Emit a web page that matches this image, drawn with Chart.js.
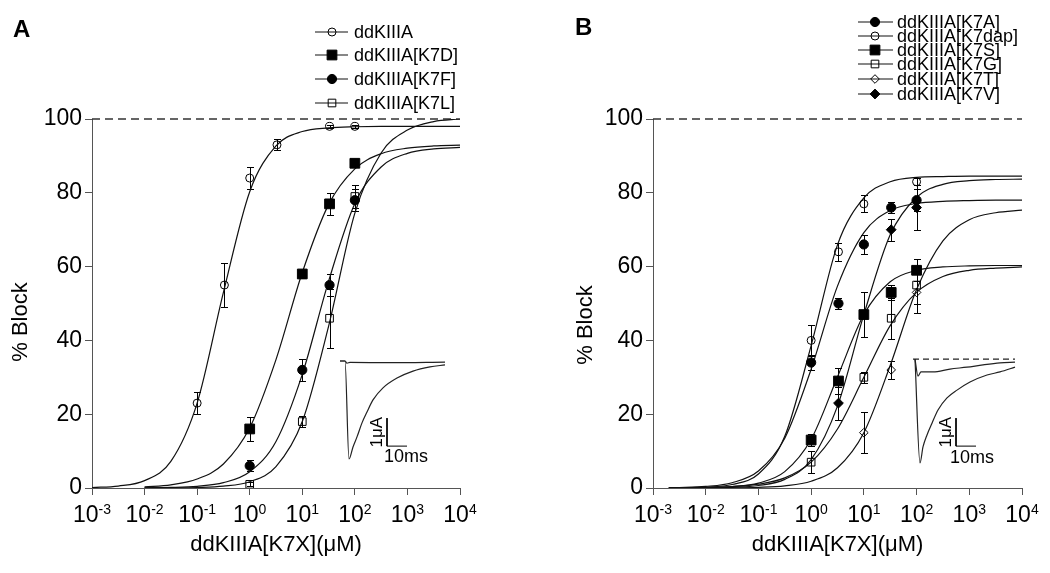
<!DOCTYPE html>
<html>
<head>
<meta charset="utf-8">
<script src="https://cdn.jsdelivr.net/npm/chart.js@4.4.1/dist/chart.umd.min.js"></script>
<style>
  html, body { margin: 0; padding: 0; background: #fff; }
  #wrap { position: relative; width: 1050px; height: 573px; }
  canvas { position: absolute; }
</style>
</head>
<body>
<div id="wrap">
  <canvas id="panelA" width="525" height="573" style="left:0;top:0"></canvas>
  <canvas id="panelB" width="525" height="573" style="left:525px;top:0"></canvas>
  <canvas id="insetA" width="130" height="140" style="left:330px;top:340px"></canvas>
  <canvas id="insetB" width="130" height="140" style="left:900px;top:340px"></canvas>
</div>
<script>
// axes
const decades = [1e-3, 1e-2, 1e-1, 1, 1e1, 1e2, 1e3, 1e4];
const yTicks = [0, 20, 40, 60, 80, 100];
const xTitle = 'ddKIIIA[K7X](\u03bcM)';
const yTitle = '% Block';

// Panel A, measured points: concentration (uM), % block, error
const ddK_conc = [0.1, 0.33, 1, 3.3, 33, 100];
const ddK_block = [23, 55, 84, 93, 98, 98];
const ddK_err = [3, 6, 3, 1.5, 0.5, 0.5];

const k7D_conc = [1, 10, 33, 100];
const k7D_block = [16, 58, 77, 88];
const k7D_err = [3.3, 1, 3, 1];

const k7F_conc = [1, 10, 33, 100];
const k7F_block = [6, 32, 55, 78];
const k7F_err = [1.5, 3, 3, 3];

const k7L_conc = [1, 10, 33, 100];
const k7L_block = [1, 18, 46, 79];
const k7L_err = [0.5, 1.5, 8, 3];

// Panel A, fitted curves at half-decade steps
const fitConcA = [0.001, 0.00316, 0.01, 0.0316, 0.1, 0.316, 1, 3.16, 10, 31.6, 100, 316, 1000, 3162, 10000];
const ddK_fit = [0.14, 0.53, 2.0, 7.2, 23.0, 53.0, 80.3, 92.7, 96.6, 97.6, 97.9, 98, 98, 98, 98];
const k7D_fit = [null, null, 0.31, 0.87, 2.43, 6.5, 16.3, 34.8, 58.4, 76.8, 86.5, 90.6, 92.1, 92.7, 92.9];
const k7F_fit = [null, null, 0.05, 0.15, 0.46, 1.44, 4.4, 12.6, 30.8, 56.0, 77.1, 87.0, 90.7, 91.9, 92.3];
const k7L_fit = [null, null, 0.01, 0.04, 0.14, 0.49, 1.71, 5.8, 18.0, 43.8, 74.5, 90.8, 97.0, 99.3, 100];

// Panel B, measured points
const k7A_conc = [1, 3.3, 10, 33, 100];
const k7A_block = [34, 50, 66, 76, 78];
const k7A_err = [2, 1.5, 2.5, 1.5, 3];

const k7dap_conc = [1, 3.3, 10, 100];
const k7dap_block = [40, 64, 77, 83];
const k7dap_err = [4.3, 2.5, 2.3, 1];

const k7S_conc = [1, 3.3, 10, 33, 100];
const k7S_block = [13, 29, 47, 53, 59];
const k7S_err = [1.5, 3.5, 6, 2, 3];

const k7G_conc = [1, 10, 33, 100];
const k7G_block = [7, 30, 46, 55];
const k7G_err = [3, 1.5, 5.5, 5];

const k7T_conc = [10, 33, 100];
const k7T_block = [15, 32, 53];
const k7T_err = [5.5, 2.5, 5.5];

const k7V_conc = [3.3, 33, 100];
const k7V_block = [23, 70, 76];
const k7V_err = [4.5, 3, 6];

// Panel B, fitted curves
const fitConcB = [0.002, 0.00316, 0.01, 0.0316, 0.1, 0.316, 1, 3.16, 10, 31.6, 100, 316, 1000, 3162, 10000];
const k7A_fit = [0.08, 0.13, 0.43, 1.43, 4.6, 13.5, 32.2, 54.7, 69.2, 75.2, 77.1, 77.7, 77.9, 78, 78];
const k7dap_fit = [0.03, 0.05, 0.22, 0.94, 3.8, 14.0, 38.6, 65.9, 78.6, 83.0, 84.2, 84.4, 84.5, 84.5, 84.5];
const k7S_fit = [0.02, 0.03, 0.11, 0.38, 1.32, 4.43, 13.2, 30.1, 47.0, 55.9, 59.0, 59.9, 60.2, 60.3, 60.3];
const k7G_fit = [0.03, 0.05, 0.14, 0.38, 1.03, 2.74, 7.0, 16.0, 30.0, 44.0, 53.0, 57.3, 59.0, 59.6, 59.9];
const k7T_fit = [0, 0.01, 0.02, 0.06, 0.19, 0.59, 1.83, 5.5, 15.0, 33.2, 53.8, 67.0, 72.7, 74.6, 75.3];
const k7V_fit = [0.01, 0.02, 0.05, 0.19, 0.67, 2.33, 7.7, 22.2, 47.0, 68.6, 78.8, 82.3, 83.3, 83.6, 83.7];

// Inset traces: time (ms), current (uA, relative to baseline)
const trA_ctrl_t = [5, 7.5, 9.5, 11.5, 13.5, 16, 18.5, 21.5, 26.5, 33.5, 41.5, 50, 57.5];
const trA_ctrl_i = [0, 0, -3.5, -3.07, -2.71, -2.21, -1.82, -1.39, -0.96, -0.61, -0.36, -0.21, -0.14];
const trA_tox_t = [5, 7.5, 8.5, 10, 30, 57.5];
const trA_tox_i = [0, 0, -0.08, -0.05, -0.06, -0.04];
const barA_t = [28.5, 28.5, 38.5];
const barA_i = [-2.04, -3.04, -3.04];

const trB_ctrl_t = [7.5, 10, 11.5, 13.5, 16, 19, 23.5, 28.5, 35, 43.5, 50, 57.5];
const trB_ctrl_i = [0, -3.71, -3.14, -2.71, -2.29, -1.82, -1.39, -1.11, -0.82, -0.57, -0.46, -0.29];
const trB_tox_t = [7.5, 9, 10.5, 16.5, 25, 33.5, 41.5, 50, 57.5];
const trB_tox_i = [0, -0.61, -0.46, -0.46, -0.36, -0.29, -0.21, -0.14, -0.11];
const baseB_t = [6.5, 57.5];
const baseB_i = [0, 0];
const barB_t = [28, 28, 38];
const barB_i = [-2.11, -3.11, -3.11];

const FONT = '"Liberation Sans", Arial, Helvetica, sans-serif';
const AXIS = '#555';
Chart.defaults.font.family = FONT;
Chart.defaults.color = '#000';

function pairs( xs, ys ) {
	let out = [];
	xs.forEach( function ( x, i ) {
		if ( ys[i] !== null ) out.push( { x: x, y: ys[i] } );
	} );
	return out;
}

function pointSet( label, xs, ys, errs, style, radius, filled ) {
	return {
		label: label,
		data: pairs( xs, ys ),
		errs: errs,
		inLegend: true,
		showLine: false,
		pointStyle: style,
		pointRadius: radius,
		pointHoverRadius: radius,
		pointBackgroundColor: filled ? '#000' : 'rgba(0,0,0,0)',
		pointBorderColor: '#000',
		pointBorderWidth: 1,
		order: 0
	};
}

function fitSet( xs, ys ) {
	return {
		data: pairs( xs, ys ),
		showLine: true,
		pointRadius: 0,
		borderColor: '#111',
		borderWidth: 1.2,
		cubicInterpolationMode: 'monotone',
		order: 1
	};
}

// dashed 100 % reference
function refLine() {
	return {
		data: [ { x: decades[0], y: 100 }, { x: decades[decades.length - 1], y: 100 } ],
		showLine: true,
		pointRadius: 0,
		borderColor: '#333',
		borderWidth: 1.3,
		borderDash: [ 8, 5 ],
		clip: false,
		order: 2
	};
}

function marker( ctx, ds, x, y ) {
	ctx.fillStyle = ds.pointBackgroundColor;
	ctx.strokeStyle = '#000';
	ctx.lineWidth = 1;
	Chart.helpers.drawPoint( ctx, { pointStyle: ds.pointStyle, radius: ds.pointRadius, borderWidth: 1, rotation: 0 }, x, y );
}

// error bars, exponent tick labels, legend, panel letter, y title
const figurePlugin = {
	id: 'figure',
	beforeDatasetsDraw( chart ) {
		const ctx = chart.ctx, xs = chart.scales.x, ys = chart.scales.y;
		ctx.save();
		ctx.strokeStyle = '#000';
		ctx.lineWidth = 1;
		chart.data.datasets.forEach( function ( ds ) {
			if ( !ds.errs ) return;
			ds.data.forEach( function ( p, i ) {
				const px = Math.round( xs.getPixelForValue( p.x ) ) + 0.5;
				const top = Math.round( ys.getPixelForValue( p.y + ds.errs[i] ) ) + 0.5;
				const bot = Math.round( ys.getPixelForValue( p.y - ds.errs[i] ) ) + 0.5;
				ctx.beginPath();
				ctx.moveTo( px, top ); ctx.lineTo( px, bot );
				ctx.moveTo( px - 3.5, top ); ctx.lineTo( px + 3.5, top );
				ctx.moveTo( px - 3.5, bot ); ctx.lineTo( px + 3.5, bot );
				ctx.stroke();
			} );
		} );
		ctx.restore();
	},
	afterDraw( chart, args, opts ) {
		const ctx = chart.ctx, xs = chart.scales.x, bottom = chart.chartArea.bottom;
		ctx.save();
		ctx.fillStyle = '#000';
		ctx.textBaseline = 'alphabetic';
		ctx.textAlign = 'left';

		// 10^n tick labels
		decades.forEach( function ( v ) {
			const exp = String( Math.round( Math.log10( v ) ) );
			ctx.font = '23px ' + FONT;
			const wb = ctx.measureText( '10' ).width;
			ctx.font = '14px ' + FONT;
			const we = ctx.measureText( exp ).width;
			const left = xs.getPixelForValue( v ) - ( wb + we ) / 2;
			ctx.font = '23px ' + FONT;
			ctx.fillText( '10', left, bottom + 34 );
			ctx.font = '14px ' + FONT;
			ctx.fillText( exp, left + wb, bottom + 26 );
		} );

		// panel letter
		ctx.font = 'bold 24px ' + FONT;
		ctx.fillText( opts.letter, opts.letterX, opts.letterY );

		// y title
		ctx.save();
		ctx.translate( opts.yTitleX, opts.yTitleY );
		ctx.rotate( -Math.PI / 2 );
		ctx.textAlign = 'center';
		ctx.textBaseline = 'middle';
		ctx.font = '22px ' + FONT;
		ctx.fillText( yTitle, 0, 0 );
		ctx.restore();

		// legend
		const lg = opts.legend;
		let row = 0;
		chart.data.datasets.forEach( function ( ds ) {
			if ( !ds.inLegend ) return;
			const y = lg.rows[row++];
			ctx.strokeStyle = '#111';
			ctx.lineWidth = 1.2;
			ctx.beginPath();
			ctx.moveTo( lg.x1, y ); ctx.lineTo( lg.x2, y );
			ctx.stroke();
			marker( ctx, ds, lg.mx, y );
			ctx.fillStyle = '#000';
			ctx.font = '18px ' + FONT;
			ctx.textBaseline = 'middle';
			ctx.fillText( ds.label, lg.tx, y + 1 );
		} );
		ctx.restore();
	}
};

function panel( id, datasets, yWidth, padRight, figure ) {
	return new Chart( document.getElementById( id ), {
		type: 'scatter',
		data: { datasets: datasets },
		options: {
			responsive: false,
			animation: false,
			events: [],
			layout: { padding: { top: 119, right: padRight, bottom: 0, left: 0 } },
			scales: {
				x: {
					type: 'logarithmic',
					min: decades[0],
					max: decades[decades.length - 1],
					afterBuildTicks: function ( s ) { s.ticks = decades.map( function ( v ) { return { value: v }; } ); },
					afterFit: function ( s ) { s.height = 85; },
					ticks: { display: false },
					grid: { drawOnChartArea: false, drawTicks: true, tickLength: 7, color: AXIS },
					border: { color: AXIS, width: 1 },
					title: { display: true, text: xTitle, color: '#000', font: { size: 22 }, padding: { top: 0, bottom: 15 } }
				},
				y: {
					min: 0,
					max: 100,
					afterBuildTicks: function ( s ) { s.ticks = yTicks.map( function ( v ) { return { value: v }; } ); },
					afterFit: function ( s ) { s.width = yWidth; },
					ticks: { color: '#000', font: { size: 23 }, padding: 3 },
					grid: { drawOnChartArea: false, drawTicks: true, tickLength: 7, color: AXIS },
					border: { color: AXIS, width: 1 }
				}
			},
			plugins: {
				legend: { display: false },
				tooltip: { enabled: false },
				figure: figure
			}
		},
		plugins: [ figurePlugin ]
	} );
}

// Panel A
panel( 'panelA', [
	pointSet( 'ddKIIIA', ddK_conc, ddK_block, ddK_err, 'circle', 4, false ),
	pointSet( 'ddKIIIA[K7D]', k7D_conc, k7D_block, k7D_err, 'rect', 6.9, true ),
	pointSet( 'ddKIIIA[K7F]', k7F_conc, k7F_block, k7F_err, 'circle', 4.6, true ),
	pointSet( 'ddKIIIA[K7L]', k7L_conc, k7L_block, k7L_err, 'rect', 5.4, false ),
	fitSet( fitConcA, ddK_fit ),
	fitSet( fitConcA, k7D_fit ),
	fitSet( fitConcA, k7F_fit ),
	fitSet( fitConcA, k7L_fit ),
	refLine()
], 92, 65, {
	letter: 'A', letterX: 13, letterY: 37,
	yTitleX: 21, yTitleY: 322,
	legend: { x1: 315, x2: 348, mx: 332, tx: 354, rows: [ 32, 55, 79, 103 ] }
} );

// Panel B
panel( 'panelB', [
	pointSet( 'ddKIIIA[K7A]', k7A_conc, k7A_block, k7A_err, 'circle', 4.6, true ),
	pointSet( 'ddKIIIA[K7dap]', k7dap_conc, k7dap_block, k7dap_err, 'circle', 4, false ),
	pointSet( 'ddKIIIA[K7S]', k7S_conc, k7S_block, k7S_err, 'rect', 6.9, true ),
	pointSet( 'ddKIIIA[K7G]', k7G_conc, k7G_block, k7G_err, 'rect', 5.4, false ),
	pointSet( 'ddKIIIA[K7T]', k7T_conc, k7T_block, k7T_err, 'rectRot', 4.3, false ),
	pointSet( 'ddKIIIA[K7V]', k7V_conc, k7V_block, k7V_err, 'rectRot', 4.9, true ),
	fitSet( fitConcB, k7A_fit ),
	fitSet( fitConcB, k7dap_fit ),
	fitSet( fitConcB, k7S_fit ),
	fitSet( fitConcB, k7G_fit ),
	fitSet( fitConcB, k7T_fit ),
	fitSet( fitConcB, k7V_fit ),
	refLine()
], 128, 28, {
	letter: 'B', letterX: 50, letterY: 35,
	yTitleX: 61, yTitleY: 325,
	legend: { x1: 333, x2: 368, mx: 350, tx: 372, rows: [ 22, 36, 50, 64, 79, 94 ] }
} );

// Insets: recorded currents with scale bars
const insetTextPlugin = {
	id: 'insetText',
	afterDraw( chart, args, opts ) {
		const ctx = chart.ctx, xs = chart.scales.x, ys = chart.scales.y;
		ctx.save();
		ctx.fillStyle = '#000';
		ctx.font = '18px ' + FONT;
		ctx.textAlign = 'center';
		ctx.textBaseline = 'middle';
		ctx.fillText( '10ms', xs.getPixelForValue( opts.ms[0] ), ys.getPixelForValue( opts.ms[1] ) );
		ctx.font = '17px ' + FONT;
		ctx.translate( xs.getPixelForValue( opts.ua[0] ), ys.getPixelForValue( opts.ua[1] ) );
		ctx.rotate( -Math.PI / 2 );
		ctx.fillText( '1\u03bcA', 0, 0 );
		ctx.restore();
	}
};

function traceSet( ts, is, dash ) {
	return {
		data: pairs( ts, is ),
		showLine: true,
		pointRadius: 0,
		borderColor: '#222',
		borderWidth: 1.2,
		borderDash: dash || [],
		cubicInterpolationMode: 'monotone'
	};
}

function barSet( ts, is ) {
	return { data: pairs( ts, is ), showLine: true, pointRadius: 0, borderColor: '#000', borderWidth: 1, tension: 0 };
}

function inset( id, datasets, yMin, yMax, labels ) {
	return new Chart( document.getElementById( id ), {
		type: 'scatter',
		data: { datasets: datasets },
		options: {
			responsive: false,
			animation: false,
			events: [],
			layout: { padding: 0 },
			scales: {
				x: { type: 'linear', display: false, min: 0, max: 65 },
				y: { type: 'linear', display: false, min: yMin, max: yMax }
			},
			plugins: { legend: { display: false }, tooltip: { enabled: false }, insetText: labels }
		},
		plugins: [ insetTextPlugin ]
	} );
}

inset( 'insetA', [
	traceSet( trA_ctrl_t, trA_ctrl_i ),
	traceSet( trA_tox_t, trA_tox_i ),
	barSet( barA_t, barA_i )
], -4.25, 0.75, { ms: [ 38, -3.43 ], ua: [ 23.5, -2.54 ] } );

inset( 'insetB', [
	traceSet( baseB_t, baseB_i, [ 6, 4 ] ),
	traceSet( trB_ctrl_t, trB_ctrl_i ),
	traceSet( trB_tox_t, trB_tox_i ),
	barSet( barB_t, barB_i )
], -4.32, 0.68, { ms: [ 36, -3.54 ], ua: [ 23, -2.61 ] } );
</script>
</body>
</html>
